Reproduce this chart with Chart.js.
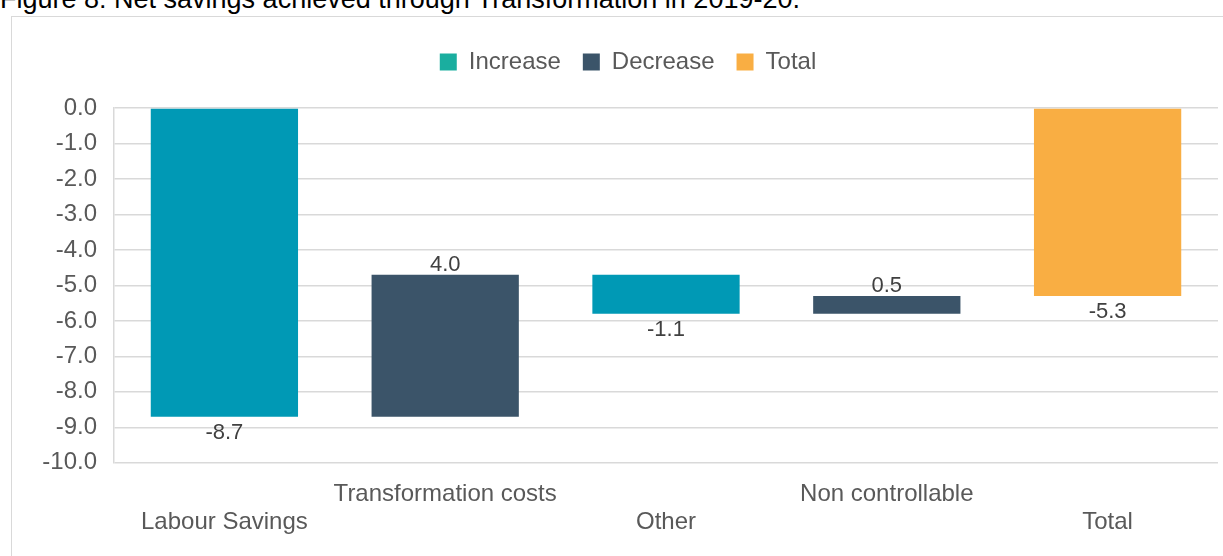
<!DOCTYPE html>
<html>
<head>
<meta charset="utf-8">
<script src="https://cdn.jsdelivr.net/npm/chart.js@4/dist/chart.umd.min.js"></script>
<style>
  html, body { margin: 0; padding: 0; background: #fff; overflow: hidden; }
  body { width: 1223px; height: 556px; position: relative; font-family: "Liberation Sans", Arial, sans-serif; }
  #title { position: absolute; left: 0; top: -16px; font-size: 27px; color: #000; white-space: nowrap; line-height: 30px; }
  #box { position: absolute; left: 11px; top: 16px; width: 1240px; height: 600px; border: 1px solid #D9D9D9; box-sizing: border-box; }
  #wrap { position: absolute; left: 12px; top: 17px; width: 1211px; height: 539px; }
</style>
</head>
<body>
<div id="title">Figure 8: Net savings achieved through Transformation in 2019-20.</div>
<div id="box"></div>
<div id="wrap"><canvas id="c"></canvas></div>
<script>
// ---- data ----
const categories = [["", "Labour Savings"], ["Transformation costs", ""], ["", "Other"], ["Non controllable", ""], ["", "Total"]];
const seriesNames = ["Increase", "Decrease", "Total"];
// floating bar ranges [start, end] per series (null = no bar)
const increaseBars = [[0, -8.7], null, [-4.7, -5.8], null, null];
const decreaseBars = [null, [-8.7, -4.7], null, [-5.8, -5.3], null];
const totalBars = [null, null, null, null, [0, -5.3]];
const barLabels = ["-8.7", "4.0", "-1.1", "0.5", "-5.3"];
const labelAbove = [false, true, false, true, false];
const yTicks = [0, -1, -2, -3, -4, -5, -6, -7, -8, -9, -10];

const barColors = ["#0099B5", "#3B5469", "#F9AE43"];
const legendColors = ["#1AAE9F", "#3B5469", "#F9AE43"];
const textColor = "#595959";
const FONT = "'Liberation Sans', Arial, sans-serif";

const labelPlugin = {
  id: 'barLabels',
  afterDatasetsDraw(chart) {
    const ctx = chart.ctx;
    ctx.save();
    ctx.font = "22px " + FONT;
    ctx.fillStyle = "#404040";
    ctx.textAlign = "center";
    chart.data.datasets.forEach((ds, di) => {
      const meta = chart.getDatasetMeta(di);
      meta.data.forEach((el, i) => {
        if (ds.data[i] == null) return;
        const top = Math.min(el.y, el.base);
        const bot = Math.max(el.y, el.base);
        if (labelAbove[i]) {
          ctx.textBaseline = "alphabetic";
          ctx.fillText(barLabels[i], el.x, top - 4);
        } else {
          ctx.textBaseline = "top";
          ctx.fillText(barLabels[i], el.x, bot + 5);
        }
      });
    });
    ctx.restore();
  }
};

const legendSpacing = {
  id: 'legendSpacing',
  beforeInit(chart) {
    const origFit = chart.legend.fit;
    chart.legend.fit = function () {
      origFit.call(this);
      this.height += 24;
    };
  },
  afterLayout(chart) {
    chart.legend.left += 13;
    chart.legend.right += 13;
  }
};

new Chart(document.getElementById('c'), {
  type: 'bar',
  data: {
    labels: categories,
    datasets: [
      { label: seriesNames[0], data: increaseBars, backgroundColor: barColors[0] },
      { label: seriesNames[1], data: decreaseBars, backgroundColor: barColors[1] },
      { label: seriesNames[2], data: totalBars, backgroundColor: barColors[2] }
    ]
  },
  options: {
    responsive: true,
    maintainAspectRatio: false,
    animation: false,
    layout: { padding: { left: 0, right: 5, top: 11, bottom: 2 } },
    datasets: { bar: { grouped: false, categoryPercentage: 0.667, barPercentage: 1.0 } },
    plugins: {
      legend: {
        position: 'top',
        labels: {
          font: { family: FONT, size: 24 },
          color: textColor,
          boxWidth: 17,
          boxHeight: 17,
          padding: 22,
          generateLabels(chart) {
            return chart.data.datasets.map((ds, i) => ({
              text: ds.label, fillStyle: legendColors[i], strokeStyle: legendColors[i],
              lineWidth: 0, hidden: false, datasetIndex: i, fontColor: textColor
            }));
          }
        }
      },
      tooltip: { enabled: false }
    },
    scales: {
      x: {
        grid: { display: false, drawTicks: false },
        border: { display: false },
        ticks: {
          autoSkip: false, maxRotation: 0, minRotation: 0,
          font: { family: FONT, size: 24, lineHeight: 1.15 },
          color: textColor, padding: 18
        }
      },
      y: {
        min: -10, max: 0,
        afterFit(scale) { scale.width = 102; },
        afterBuildTicks(scale) { scale.ticks = yTicks.map(v => ({ value: v })); },
        grid: { color: "#D9D9D9", lineWidth: 1.5, drawTicks: false },
        border: { display: true, color: "#D9D9D9", width: 1.5 },
        ticks: {
          font: { family: FONT, size: 24 },
          color: textColor, padding: 17,
          callback: v => v.toFixed(1)
        }
      }
    }
  },
  plugins: [labelPlugin, legendSpacing]
});
</script>
</body>
</html>
